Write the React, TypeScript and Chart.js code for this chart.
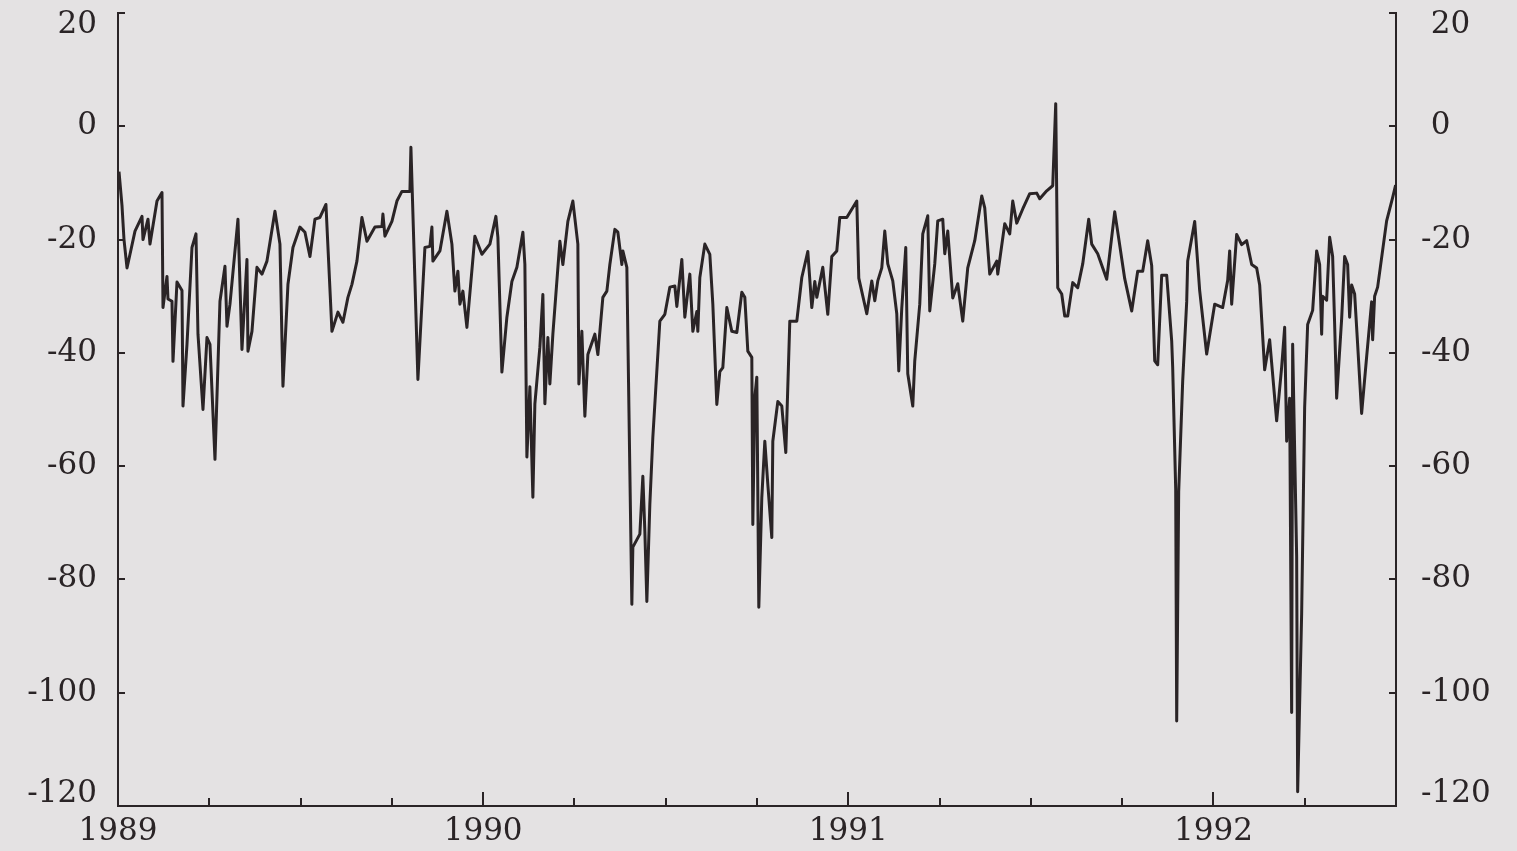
import React, { useEffect, useRef } from 'react';
import { Chart, registerables } from 'chart.js';

Chart.register(...registerables);

const BG = '#e4e2e3';
const INK = '#2a2426';

const START_YEAR = 1989;
const END_YEAR = 1992.5;
const years = [1989, 1990, 1991, 1992];
const yTickValues = [20, 0, -20, -40, -60, -80, -100, -120];

// days since 1 January 1989
const days = [
  1, 4, 6, 9, 12, 17, 24, 25, 30, 32, 39, 44, 45, 49, 50, 54, 55, 59, 64, 65,
  69, 74, 78, 80, 85, 89, 92, 97, 102, 107, 109, 112, 120, 124, 129, 130, 134, 139, 144, 149,
  157, 162, 165, 170, 175, 182, 187, 192, 197, 202, 208, 214, 220, 225, 230, 234, 239, 244, 249, 257,
  264, 265, 267, 274, 279, 284, 292, 293, 300, 307, 312, 314, 315, 322, 329, 334, 337, 340, 342, 345,
  349, 357, 364, 372, 378, 380, 384, 389, 394, 399, 405, 407, 409, 412, 415, 417, 422, 425, 427, 430,
  432, 435, 442, 445, 450, 455, 460, 461, 464, 467, 470, 477, 480, 485, 489, 492, 497, 500, 504, 505,
  509, 512, 514, 515, 522, 525, 527, 529, 532, 535, 542, 547, 552, 557, 559, 564, 567, 570, 572, 575,
  579, 580, 582, 587, 592, 595, 599, 602, 605, 609, 614, 619, 624, 627, 630, 634, 635, 637, 639, 641,
  644, 647, 650, 654, 655, 660, 664, 668, 672, 679, 684, 690, 694, 697, 699, 705, 710, 714, 719, 722,
  729, 739, 741, 749, 754, 757, 760, 764, 767, 770, 775, 779, 781, 784, 788, 790, 795, 797, 802, 805,
  810, 812, 817, 820, 825, 827, 830, 835, 840, 845, 850, 857, 864, 867, 872, 879, 880, 887, 892, 895,
  899, 905, 912, 919, 922, 929, 935, 938, 940, 944, 947, 950, 955, 960, 965, 971, 974, 980, 989, 997,
  1000, 1007, 1014, 1020, 1025, 1030, 1034, 1037, 1040, 1044, 1049, 1054, 1055, 1058, 1059, 1061, 1065, 1069, 1070, 1077,
  1082, 1089, 1097, 1105, 1110, 1112, 1114, 1119, 1124, 1129, 1134, 1139, 1142, 1147, 1152, 1159, 1164, 1167, 1169, 1172,
  1174, 1175, 1179, 1180, 1184, 1187, 1190, 1195, 1199, 1202, 1204, 1205, 1209, 1212, 1215, 1217, 1219, 1224, 1227, 1230,
  1232, 1234, 1237, 1240, 1244, 1249, 1254, 1255, 1257, 1260, 1269, 1275, 1278,
];

const values = [
  -8, -14, -20, -25, -22.6, -18.5, -15.9, -20, -16.4, -20.8, -13.2, -11.7, -32, -26.5, -30.5, -30.9, -41.5, -27.5, -29, -49.4,
  -38.5, -21.4, -19, -36.7, -50, -37.3, -38.5, -58.8, -30.9, -24.7, -35.3, -31.4, -16.4, -39.4, -23.5, -39.7, -36.2, -24.9, -26.1, -23.8,
  -15, -20.8, -45.9, -27.9, -21.4, -17.8, -18.7, -23, -16.4, -16.1, -13.8, -36.2, -32.8, -34.6, -30.2, -27.9, -23.8, -16.1, -20.3, -17.8,
  -17.7, -15.5, -19.4, -16.8, -13.2, -11.5, -11.5, -3.7, -44.7, -21.4, -21.2, -17.8, -23.8, -22, -15, -20.8, -29.1, -25.6, -31.4, -29.1,
  -35.5, -19.4, -22.6, -20.8, -15.9, -19.6, -43.4, -33.7, -27.4, -24.9, -18.7, -24.4, -58.4, -46, -65.5, -49, -39, -29.7, -49, -37.3,
  -45.5, -36.7, -20.3, -24.4, -16.8, -13.2, -20.8, -45.5, -36.2, -51.2, -40.3, -36.7, -40.3, -30.2, -29.1, -24.4, -18.2, -18.7, -24.4, -22,
  -24.9, -60.9, -84.4, -74.3, -72, -61.8, -71.5, -83.9, -66.7, -54.9, -34.4, -33.2, -28.4, -28.2, -31.8, -23.5, -33.7, -29.1, -26.1, -36.2,
  -32.7, -36.2, -26.7, -20.8, -22.6, -31.4, -49.1, -43.3, -42.6, -32, -36.2, -36.4, -29.3, -30.2, -39.7, -40.8, -70.3, -47.8, -44.3, -84.9,
  -65.5, -55.6, -63.2, -72.6, -55.6, -48.6, -49.4, -57.6, -34.4, -34.4, -26.7, -22.1, -32, -27.4, -30.2, -24.9, -33.2, -23, -22, -16.1,
  -16.1, -13.2, -26.8, -33.1, -27.3, -30.8, -27.3, -25, -18.5, -24.3, -27.3, -33.1, -43.2, -32.1, -21.4, -43.7, -49.4, -41.4, -31.4, -19,
  -15.8, -32.6, -24.3, -16.7, -16.4, -22.5, -18.5, -30.3, -27.8, -34.4, -25, -20.2, -12.3, -14.4, -26.1, -23.8, -26.1, -17.2, -19, -13.2,
  -17.1, -14.6, -11.9, -11.8, -12.8, -11.4, -10.5, 4, -28.5, -29.6, -33.5, -33.5, -27.6, -28.5, -24.3, -16.4, -20.8, -22.5, -27, -15.1,
  -18.6, -26.9, -32.6, -25.6, -25.6, -20.2, -24.6, -41.4, -42.1, -26.3, -26.3, -37.9, -42.6, -64, -105, -64.5, -45, -31, -23.8, -16.8,
  -29, -40.2, -31.4, -32, -27.2, -22, -31.4, -19.1, -20.9, -20.2, -24.4, -25, -28, -43, -37.7, -52, -42.5, -35.5, -55.6, -48,
  -103.5, -38.5, -76, -117.5, -86, -49.6, -35, -32.5, -22, -24.4, -36.7, -30, -30.7, -19.6, -23, -35, -48, -34, -23, -24.4,
  -33.7, -28, -29.6, -38.5, -50.7, -40.7, -31, -37.7, -30, -28.4, -16.7, -12.6, -10.4,
];

export default function App() {
  const ref = useRef<HTMLCanvasElement | null>(null);

  useEffect(() => {
    document.body.style.margin = '0';
    document.body.style.background = BG;
    document.body.style.overflow = 'hidden';
    const canvas = ref.current;
    if (!canvas) return;

    const points = days.map((d, i) => ({ x: START_YEAR + d / 365.25, y: values[i] }));
    const xTicks: number[] = [];
    years.forEach((yr) => [0, 0.25, 0.5, 0.75].forEach((q) => {
      if (yr + q <= END_YEAR) xTicks.push(yr + q);
    }));
    const isYear = (v: number) => years.includes(v);

    const yFont = { family: '"DejaVu Serif", serif', size: 31, lineHeight: 0.8 };
    const xFont = { family: '"DejaVu Serif", serif', size: 31 };
    const topVal = yTickValues[0];
    const botVal = yTickValues[yTickValues.length - 1];
    const yLabel = (v: number, prefix: string) => {
      const s = (v >= 0 ? prefix : '') + String(v);
      if (v === topVal) return ['', s];
      if (v === botVal) return [s, ''];
      return s;
    };
    const yGrid = { drawOnChartArea: false, drawTicks: true, tickLength: -7, color: INK, lineWidth: 2 };
    const border = { display: true, color: INK, width: 2 };
    const zeroPad = (s: any) => {
      s.paddingTop = 0;
      s.paddingBottom = 0;
      s.paddingLeft = 0;
      s.paddingRight = 0;
    };

    const chart = new Chart(canvas, {
      type: 'line',
      data: {
        datasets: [{
          data: points,
          borderColor: INK,
          borderWidth: 3,
          pointRadius: 0,
          tension: 0,
          fill: false,
          borderJoinStyle: 'round',
        }],
      },
      options: {
        animation: false,
        responsive: false,
        maintainAspectRatio: false,
        parsing: false as any,
        normalized: true,
        layout: { padding: { top: 13, left: 0, right: 0, bottom: 0 } },
        plugins: { legend: { display: false }, tooltip: { enabled: false } },
        scales: {
          x: {
            type: 'linear',
            position: 'bottom',
            min: START_YEAR,
            max: END_YEAR,
            afterBuildTicks: (s: any) => { s.ticks = xTicks.map((v) => ({ value: v })); },
            afterFit: (s: any) => { s.height = 45; zeroPad(s); },
            ticks: {
              autoSkip: false,
              maxRotation: 0,
              padding: 21,
              color: INK,
              font: xFont,
              callback: (v: any) => (isYear(Number(v)) ? String(v) : ''),
            },
            grid: {
              drawOnChartArea: false,
              drawTicks: true,
              tickLength: -14,
              color: INK,
              lineWidth: 2,
              tickBorderDash: (c: any) => (c.tick && isYear(c.tick.value) ? [] : [9, 100]),
            } as any,
            border,
          },
          y: {
            type: 'linear',
            position: 'left',
            min: botVal,
            max: topVal,
            afterBuildTicks: (s: any) => { s.ticks = yTickValues.map((v) => ({ value: v })); },
            afterFit: (s: any) => { s.width = 118; zeroPad(s); },
            ticks: { padding: 28, color: INK, font: yFont, callback: (v: any) => yLabel(Number(v), '') },
            grid: yGrid,
            border,
          },
          y2: {
            type: 'linear',
            position: 'right',
            min: botVal,
            max: topVal,
            afterBuildTicks: (s: any) => { s.ticks = yTickValues.map((v) => ({ value: v })); },
            afterFit: (s: any) => { s.width = 121; zeroPad(s); },
            ticks: { padding: 32, color: INK, font: yFont, callback: (v: any) => yLabel(Number(v), ' ') },
            grid: yGrid,
            border,
          },
        },
      } as any,
    });
    return () => chart.destroy();
  }, []);

  return (
    <div style={{ width: 1517, height: 851, background: BG, overflow: 'hidden' }}>
      <style>{`body{margin:0;background:${BG};}`}</style>
      <canvas ref={ref} width={1517} height={851} style={{ display: 'block', width: 1517, height: 851 }} />
    </div>
  );
}
